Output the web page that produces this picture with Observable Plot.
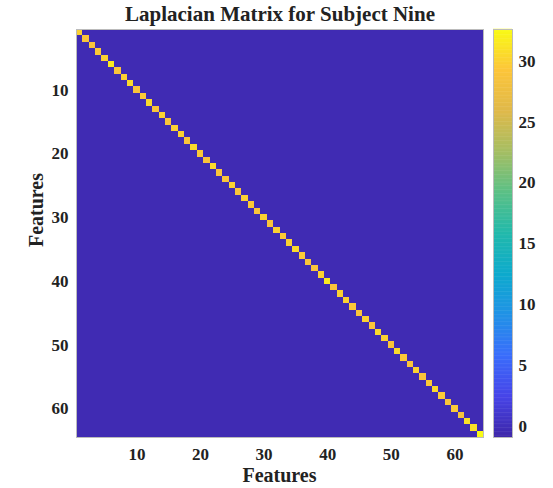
<!DOCTYPE html>
<html>
<head>
<meta charset="utf-8">
<script src="https://cdn.jsdelivr.net/npm/d3@7"></script>
<script src="https://cdn.jsdelivr.net/npm/@observablehq/plot@0.6"></script>
<style>
  html, body { margin: 0; padding: 0; background: #fff; }
  #wrap { position: relative; width: 553px; height: 488px; overflow: hidden;
          font-family: "Liberation Serif", "Times New Roman", serif; color: #222; }
  #title { position: absolute; left: 0; width: 560px; top: 3px; text-align: center;
           font-weight: bold; font-size: 21px; line-height: 1.1; }
  #xlab { position: absolute; left: 76px; width: 407px; top: 465px; text-align: center;
          font-weight: bold; font-size: 20px; line-height: 1; }
  #ylab { position: absolute; left: 36px; top: 210px; font-weight: bold; font-size: 20px; line-height: 1;
          transform: translate(-50%, -50%) rotate(-90deg); white-space: nowrap; }
  #main { position: absolute; left: 0; top: 0; }
  #cbar { position: absolute; left: 493px; top: 0; }
</style>
</head>
<body>
<div id="wrap">
  <div id="main"></div>
  <div id="cbar"></div>
  <div id="title">Laplacian Matrix for Subject Nine</div>
  <div id="xlab">Features</div>
  <div id="ylab">Features</div>
</div>
<script>
// ---- data ----
const features = d3.range(1, 65); // 64 features
// diagonal (degree) values, row 1..64
const diagonal = [
  30, 29, 29, 29.5, 30, 31.5, 29, 30, 30.5, 29, 29.5, 30.5, 29, 30, 29, 30,
  30, 29, 30.5, 29.5, 29, 30.5, 29, 29, 30, 29, 30, 29.5, 29, 30, 29, 30,
  29.5, 30, 30.5, 29.5, 29, 29, 30, 31.5, 29, 30, 30, 29.5, 29, 30, 29, 30.5,
  30, 29, 30.5, 29.5, 29, 30, 29, 29.5, 30.5, 29.5, 29, 29.5, 28.5, 31, 31, 32.6
];
const offDiagonal = -0.3;          // off-diagonal (negative weight) level
const colorDomain = [-0.9, 32.6];
const xTicks = [10, 20, 30, 40, 50, 60];
const yTicks = [10, 20, 30, 40, 50, 60];
const cbarTicks = [0, 5, 10, 15, 20, 25, 30];
const parula = ["#3e26a8", "#4744e8", "#3a6dfb", "#2192e6", "#0daacd", "#22b9ab",
                "#5bc086", "#a5be63", "#e0b94a", "#fcc53a", "#f9fb15"];

// ---- table built from the arrays ----
const cells = [];
for (const i of features) for (const j of features)
  cells.push({row: i, col: j, value: i === j ? diagonal[i - 1] : offDiagonal});

const pw = d3.piecewise(d3.interpolateRgb, parula);
const colorScale = {type: "linear", domain: colorDomain, interpolate: (t) => pw(t)};
const font = "font-family:'Liberation Serif','Times New Roman',serif;font-size:17px;font-weight:bold;color:#222;background:none;";

const main = Plot.plot({
  width: 553, height: 488,
  marginLeft: 76, marginRight: 70, marginTop: 29, marginBottom: 51,
  style: font,
  x: {type: "linear", domain: [0.5, 64.5], inset: 0, axis: null},
  y: {type: "linear", domain: [0.5, 64.5], reverse: true, inset: 0, axis: null},
  color: colorScale,
  marks: [
    Plot.rect(cells, {
      x1: d => d.col - 0.5, x2: d => d.col + 0.5,
      y1: d => d.row - 0.5, y2: d => d.row + 0.5,
      fill: "value", inset: 0, shapeRendering: "crispEdges"
    }),
    Plot.frame({stroke: "#bbb"}),
    Plot.axisX({ticks: xTicks, tickSize: 0, tickPadding: 10, label: null}),
    Plot.axisY({ticks: yTicks, tickSize: 0, tickPadding: 8, label: null})
  ]
});
document.getElementById("main").appendChild(main);

// colorbar
const nSteps = 300;
const dv = (colorDomain[1] - colorDomain[0]) / nSteps;
const steps = d3.range(0, nSteps).map(k => colorDomain[0] + (k + 0.5) * dv);
const cbar = Plot.plot({
  width: 60, height: 488,
  marginLeft: 0, marginRight: 41, marginTop: 29, marginBottom: 51,
  style: font,
  x: {domain: [0, 1], axis: null},
  y: {domain: colorDomain, inset: 0, axis: null},
  color: colorScale,
  marks: [
    Plot.rect(steps, {x1: 0, x2: 1, y1: d => d - dv / 2 - 0.02, y2: d => d + dv / 2 + 0.02, fill: d => d, inset: 0}),
    Plot.frame({stroke: "#bbb"}),
    Plot.axisY({anchor: "right", ticks: cbarTicks, tickSize: 0, tickPadding: 6, label: null})
  ]
});
document.getElementById("cbar").appendChild(cbar);
</script>
</body>
</html>
